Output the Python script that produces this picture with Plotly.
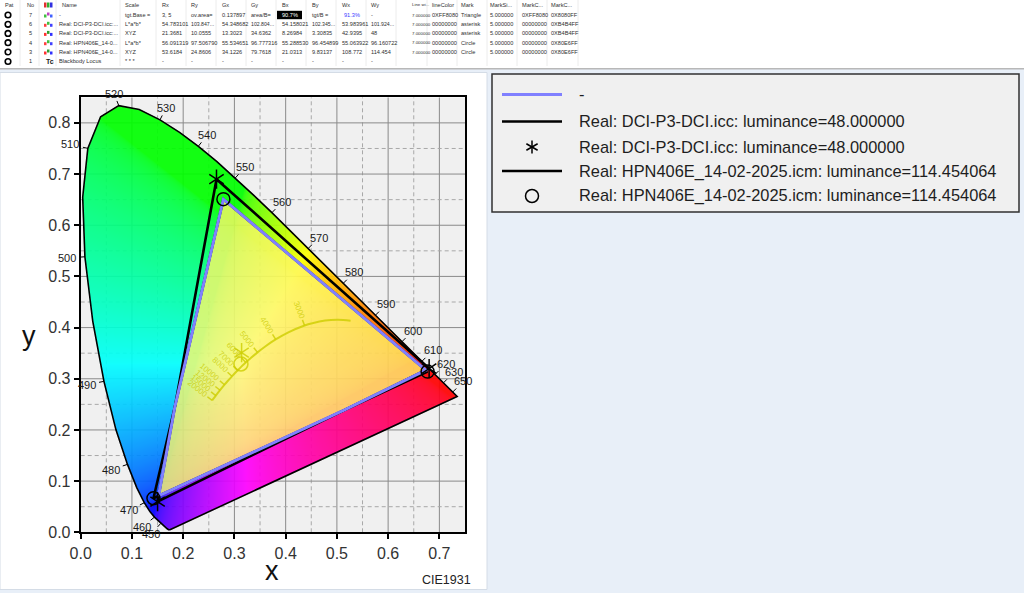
import numpy as np
import plotly.graph_objects as go
import zlib, struct, base64, math

# ---------------- data ----------------
# CIE 1931 spectral locus (wavelength nm, x, y)
wavelengths = [380, 390, 400, 410, 420, 430, 440, 445, 450, 455, 460, 465, 470, 475, 480, 485, 490, 495,
               500, 505, 510, 515, 520, 525, 530, 535, 540, 545, 550, 555, 560, 565, 570, 575, 580, 585,
               590, 595, 600, 605, 610, 615, 620, 625, 630, 635, 640, 645, 650, 655, 660, 670, 680, 700]
locus_x = [0.1741, 0.1738, 0.1733, 0.1726, 0.1714, 0.1689, 0.1644, 0.1611, 0.1566, 0.1510, 0.1440, 0.1355,
           0.1241, 0.1096, 0.0913, 0.0687, 0.0454, 0.0235, 0.0082, 0.0039, 0.0139, 0.0389, 0.0743, 0.1142,
           0.1547, 0.1929, 0.2296, 0.2658, 0.3016, 0.3373, 0.3731, 0.4087, 0.4441, 0.4788, 0.5125, 0.5448,
           0.5752, 0.6029, 0.6270, 0.6482, 0.6658, 0.6801, 0.6915, 0.7006, 0.7079, 0.7140, 0.7190, 0.7230,
           0.7260, 0.7283, 0.7300, 0.7320, 0.7334, 0.7347]
locus_y = [0.0050, 0.0049, 0.0048, 0.0048, 0.0051, 0.0069, 0.0109, 0.0138, 0.0177, 0.0227, 0.0297, 0.0399,
           0.0578, 0.0868, 0.1327, 0.2007, 0.2950, 0.4127, 0.5384, 0.6548, 0.7502, 0.8120, 0.8338, 0.8262,
           0.8059, 0.7816, 0.7543, 0.7243, 0.6923, 0.6589, 0.6245, 0.5896, 0.5547, 0.5202, 0.4866, 0.4544,
           0.4242, 0.3965, 0.3725, 0.3514, 0.3340, 0.3197, 0.3083, 0.2993, 0.2920, 0.2859, 0.2809, 0.2770,
           0.2740, 0.2717, 0.2700, 0.2680, 0.2666, 0.2653]
labeled_wl = [450, 460, 470, 480, 490, 500, 510, 520, 530, 540, 550, 560, 570, 580, 590, 600, 610, 620, 630, 650]

# Planckian (blackbody) locus
bb_T = [2000, 2200, 2500, 2800, 3000, 3500, 4000, 4500, 5000, 5500, 6000, 6500, 7000, 8000, 9000, 10000, 12000, 15000, 20000]
bb_x = [0.5267, 0.5020, 0.4770, 0.4520, 0.4369, 0.4053, 0.3805, 0.3608, 0.3451, 0.3325, 0.3221, 0.3135, 0.3064,
        0.2952, 0.2869, 0.2807, 0.2719, 0.2637, 0.2565]
bb_y = [0.4133, 0.4152, 0.4137, 0.4086, 0.4041, 0.3907, 0.3768, 0.3636, 0.3516, 0.3411, 0.3318, 0.3237, 0.3166,
        0.3048, 0.2956, 0.2884, 0.2776, 0.2671, 0.2577]
bb_labels = [3000, 4000, 5000, 6000, 7000, 8000, 10000, 12000, 15000, 20000]

# gamuts (R, G, B) and white points
dci_name = "Real: DCI-P3-DCI.icc: luminance=48.000000"
dci_x = [0.680, 0.265, 0.150]
dci_y = [0.320, 0.690, 0.060]
dci_wx, dci_wy = 0.314, 0.351
hpn_name = "Real: HPN406E_14-02-2025.icm: luminance=114.454064"
hpn_x = [0.677, 0.2785, 0.142]
hpn_y = [0.314, 0.651, 0.0665]
hpn_wx, hpn_wy = 0.3127, 0.3290

# table (top strip)
tbl_header = ["Pat", "No", "", "Name", "Scale", "Rx", "Ry", "Gx", "Gy", "Bx", "By", "Wx", "Wy",
              "Line wi...", "lineColor", "Mark", "MarkSi...", "MarkC...", "MarkC..."]
tbl_no = ["7", "6", "5", "4", "3", "1"]
tbl_name = ["-", "Real: DCI-P3-DCI.icc:...", "Real: DCI-P3-DCI.icc:...", "Real: HPN406E_14-0...",
            "Real: HPN406E_14-0...", "Blackbody Locus"]
tbl_scale = ["tgt.Base =", "L*a*b*", "XYZ", "L*a*b*", "XYZ", "* * *"]
tbl_vals = [
    ["3, 5", "ov.area=", "0.137897", "area/B=", "90.7%", "tgt/B =", "91.3%", "-"],
    ["54.783101", "103.847...", "54.348682", "102.804...", "54.158021", "102.345...", "53.983961", "101.924..."],
    ["21.3681", "10.0555", "13.3023", "34.6362", "8.26984", "3.30835", "42.9395", "48"],
    ["56.091319", "97.506790", "55.534651", "96.777316", "55.288530", "96.454899", "55.063922", "96.160722"],
    ["53.6184", "24.8606", "34.1226", "79.7618", "21.0313", "9.83137", "108.772", "114.454"],
    ["-", "-", "-", "-", "-", "-", "-", "-"],
]
tbl_tail = [
    ["7.000000", "0XFF8080", "Triangle", "5.000000", "0XFF8080", "0X8080FF"],
    ["7.000000", "00000000", "asterisk", "5.000000", "00000000", "0XB4B4FF"],
    ["7.000000", "00000000", "asterisk", "5.000000", "00000000", "0XB4B4FF"],
    ["7.000000", "00000000", "Circle", "5.000000", "00000000", "0X80E6FF"],
    ["7.000000", "00000000", "Circle", "5.000000", "00000000", "0X80E6FF"],
    ["", "", "", "", "", ""],
]

# ---------------- layout geometry (pixels) ----------------
FIG_W, FIG_H = 1024, 593
PX0, PX1 = 80.7, 465.0
PY0, PY1 = 97.3, 532.3
XR = [0.0, 0.75]
YR = [0.0, 0.85]
DPX = (XR[1] - XR[0]) / (PX1 - PX0)
DPY = (YR[1] - YR[0]) / (PY1 - PY0)
FONT = "Liberation Sans, Arial, sans-serif"


def pp(px, py):
    return px / FIG_W, 1 - py / FIG_H


# ---------------- intersection polygon ----------------
def clip_poly(subject, clipper):
    n = len(clipper)
    area = sum(clipper[i][0] * clipper[(i + 1) % n][1] - clipper[(i + 1) % n][0] * clipper[i][1] for i in range(n))
    sg = 1 if area > 0 else -1

    def inside(p, a, b):
        return sg * ((b[0] - a[0]) * (p[1] - a[1]) - (b[1] - a[1]) * (p[0] - a[0])) >= 0

    def inter(p, q, a, b):
        x1, y1 = p; x2, y2 = q; x3, y3 = a; x4, y4 = b
        den = (x1 - x2) * (y3 - y4) - (y1 - y2) * (x3 - x4)
        t = ((x1 - x3) * (y3 - y4) - (y1 - y3) * (x3 - x4)) / den
        return (x1 + t * (x2 - x1), y1 + t * (y2 - y1))

    out = list(subject)
    for i in range(n):
        a, b = clipper[i], clipper[(i + 1) % n]
        inp, out = out, []
        if not inp:
            break
        s = inp[-1]
        for e in inp:
            if inside(e, a, b):
                if not inside(s, a, b):
                    out.append(inter(s, e, a, b))
                out.append(e)
            elif inside(s, a, b):
                out.append(inter(s, e, a, b))
            s = e
    return out


ov_poly = clip_poly(list(zip(hpn_x, hpn_y)), list(zip(dci_x, dci_y)))
ov_x = [p[0] for p in ov_poly] + [ov_poly[0][0]]
ov_y = [p[1] for p in ov_poly] + [ov_poly[0][1]]


# ---------------- chromaticity background image ----------------
def inside_mask(px, py, vx, vy):
    res = np.zeros(px.shape, bool)
    n = len(vx)
    j = n - 1
    for i in range(n):
        xi, yi, xj, yj = vx[i], vy[i], vx[j], vy[j]
        if yj != yi:
            cond = ((yi > py) != (yj > py)) & (px < (xj - xi) * (py - yi) / (yj - yi) + xi)
            res ^= cond
        j = i
    return res


IW, IH = 770, 870
gx = XR[0] + (np.arange(IW) + 0.5) * (XR[1] - XR[0]) / IW
gy = YR[1] - (np.arange(IH) + 0.5) * (YR[1] - YR[0]) / IH
XX, YY = np.meshgrid(gx, gy)
Ys = np.maximum(YY, 1e-4)
Xc = XX / Ys
Zc = (1 - XX - YY) / Ys
r = 3.2406 * Xc - 1.5372 - 0.4986 * Zc
g = -0.9689 * Xc + 1.8758 + 0.0415 * Zc
b = 0.0557 * Xc - 0.2040 + 1.0570 * Zc
rgb = np.clip(np.stack([r, g, b], -1), 0, None)
rgb = rgb / np.maximum(rgb.max(-1, keepdims=True), 1e-9)
rgb = rgb ** (1 / 2.2)
in_locus = inside_mask(XX, YY, locus_x, locus_y)
in_ov = inside_mask(XX, YY, ov_x[:-1], ov_y[:-1])
tint = np.array([1.0, 0.97, 0.15])
light = 0.5 + 0.5 * rgb[in_ov]
rgb[in_ov] = 0.4 * light + 0.6 * tint
img = np.zeros((IH, IW, 4), np.uint8)
img[..., :3] = np.clip(rgb * 255, 0, 255).astype(np.uint8)
img[..., 3] = np.where(in_locus, 255, 0).astype(np.uint8)


def png_uri(arr):
    h, w, _ = arr.shape
    raw = b"".join(b"\x00" + arr[i].tobytes() for i in range(h))

    def chunk(t, d):
        c = struct.pack(">I", len(d)) + t + d
        return c + struct.pack(">I", zlib.crc32(t + d) & 0xFFFFFFFF)

    ihdr = struct.pack(">IIBBBBB", w, h, 8, 6, 0, 0, 0)
    data = b"\x89PNG\r\n\x1a\n" + chunk(b"IHDR", ihdr) + chunk(b"IDAT", zlib.compress(raw, 9)) + chunk(b"IEND", b"")
    return "data:image/png;base64," + base64.b64encode(data).decode()


# ---------------- figure ----------------
fig = go.Figure()
shapes = []
annotations = []

# panels
shapes.append(dict(type="rect", xref="paper", yref="paper", x0=0, x1=1, y0=pp(0, 68)[1], y1=1,
                   fillcolor="white", line=dict(width=0), layer="below"))
shapes.append(dict(type="line", xref="paper", yref="paper", x0=0, x1=1, y0=pp(0, 68.8)[1], y1=pp(0, 68.8)[1],
                   line=dict(color="#b8b8b8", width=1.5), layer="below"))
shapes.append(dict(type="rect", xref="paper", yref="paper", x0=pp(0, 0)[0], x1=pp(487, 0)[0],
                   y0=pp(0, 589.5)[1], y1=pp(0, 72.5)[1], fillcolor="white",
                   line=dict(color="#d4dce6", width=1), layer="below"))

# plot background + grid (drawn under the colour image)
shapes.append(dict(type="rect", xref="x", yref="y", x0=XR[0], x1=XR[1], y0=YR[0], y1=YR[1],
                   fillcolor="#f0f0f0", line=dict(width=0), layer="below"))
for k in range(1, 15):
    v = k * 0.05
    major = k % 2 == 0
    st = dict(color="#8a8a8a", width=1) if major else dict(color="#a8a8a8", width=1, dash="4px,3px")
    shapes.append(dict(type="line", xref="x", yref="y", x0=v, x1=v, y0=YR[0], y1=YR[1], line=st, layer="below"))
for k in range(1, 17):
    v = k * 0.05
    major = k % 2 == 0
    st = dict(color="#8a8a8a", width=1) if major else dict(color="#a8a8a8", width=1, dash="4px,3px")
    shapes.append(dict(type="line", xref="x", yref="y", x0=XR[0], x1=XR[1], y0=v, y1=v, line=st, layer="below"))

# spectral locus outline
fig.add_trace(go.Scatter(x=locus_x + [locus_x[0]], y=locus_y + [locus_y[0]], mode="lines",
                         line=dict(color="black", width=1.6), hoverinfo="skip", showlegend=False))

# wavelength ticks + labels
wl_tx, wl_ty = [], []
cx, cy = 0.33, 0.33
for w in labeled_wl:
    i = wavelengths.index(w)
    i0, i1 = max(i - 2, 0), min(i + 2, len(wavelengths) - 1)
    tx, ty = locus_x[i1] - locus_x[i0], locus_y[i1] - locus_y[i0]
    nx, ny = ty, -tx
    nn = math.hypot(nx, ny)
    nx, ny = nx / nn, ny / nn
    if nx * (locus_x[i] - cx) + ny * (locus_y[i] - cy) < 0:
        nx, ny = -nx, -ny
    wl_tx += [locus_x[i], locus_x[i] + nx * 5 * DPX, None]
    wl_ty += [locus_y[i], locus_y[i] + ny * 5 * DPY, None]
    d = 9 + 9 * abs(nx)
    annotations.append(dict(x=locus_x[i], y=locus_y[i], xref="x", yref="y", text=str(w), showarrow=False,
                            xanchor="center", yanchor="middle", xshift=nx * d, yshift=ny * d,
                            font=dict(family=FONT, size=11, color="#1a1a1a")))
fig.add_trace(go.Scatter(x=wl_tx, y=wl_ty, mode="lines", line=dict(color="black", width=1),
                         hoverinfo="skip", showlegend=False))

# blackbody locus
BB_COL = "rgba(205,205,0,0.8)"
fig.add_trace(go.Scatter(x=bb_x, y=bb_y, mode="lines", line=dict(color=BB_COL, width=2, shape="spline"),
                         hoverinfo="skip", showlegend=False))
bb_tx, bb_ty = [], []
for T in bb_labels:
    i = bb_T.index(T)
    i0, i1 = max(i - 1, 0), min(i + 1, len(bb_T) - 1)
    tx, ty = bb_x[i1] - bb_x[i0], bb_y[i1] - bb_y[i0]
    nx, ny = ty, -tx
    nn = math.hypot(nx, ny)
    nx, ny = nx / nn, ny / nn
    if ny < 0:
        nx, ny = -nx, -ny
    bb_tx += [bb_x[i], bb_x[i] + nx * 6 * DPX, None]
    bb_ty += [bb_y[i], bb_y[i] + ny * 6 * DPY, None]
    wtxt = len(str(T)) * 4.4
    d = 8 + wtxt / 2
    ang = math.degrees(math.atan2(ny, -nx))
    annotations.append(dict(x=bb_x[i], y=bb_y[i], xref="x", yref="y", text=str(T), showarrow=False,
                            xanchor="center", yanchor="middle", xshift=nx * d, yshift=ny * d, textangle=ang,
                            font=dict(family=FONT, size=8, color="rgba(200,200,0,0.75)")))
fig.add_trace(go.Scatter(x=bb_tx, y=bb_ty, mode="lines", line=dict(color=BB_COL, width=1.5),
                         hoverinfo="skip", showlegend=False))

# gamut triangles
fig.add_trace(go.Scatter(x=hpn_x + [hpn_x[0]], y=hpn_y + [hpn_y[0]], mode="lines",
                         line=dict(color="black", width=2.6), name=hpn_name, showlegend=False))
fig.add_trace(go.Scatter(x=dci_x + [dci_x[0]], y=dci_y + [dci_y[0]], mode="lines",
                         line=dict(color="black", width=2.6), name=dci_name, showlegend=False))
fig.add_trace(go.Scatter(x=ov_x, y=ov_y, mode="lines", line=dict(color="#8080FF", width=3),
                         name="-", showlegend=False))

# markers
for sym in ["y-up-open", "y-down-open"]:
    fig.add_trace(go.Scatter(x=dci_x, y=dci_y, mode="markers", showlegend=False, name=dci_name,
                             marker=dict(symbol=sym, size=12, color="black", line=dict(color="black", width=1.5))))
    fig.add_trace(go.Scatter(x=[dci_wx], y=[dci_wy], mode="markers", showlegend=False,
                             marker=dict(symbol=sym, size=12, color=BB_COL, line=dict(color=BB_COL, width=1.5))))
fig.add_trace(go.Scatter(x=hpn_x, y=hpn_y, mode="markers", showlegend=False, name=hpn_name,
                         marker=dict(symbol="circle-open", size=13, color="black", line=dict(color="black", width=1.5))))
fig.add_trace(go.Scatter(x=[hpn_wx], y=[hpn_wy], mode="markers", showlegend=False,
                         marker=dict(symbol="circle-open", size=14, color=BB_COL, line=dict(color=BB_COL, width=1.6))))

# axis titles / caption
annotations.append(dict(xref="paper", yref="paper", x=pp(272, 0)[0], y=pp(0, 571)[1], text="x", showarrow=False,
                        xanchor="center", yanchor="middle", font=dict(family=FONT, size=27, color="#111")))
annotations.append(dict(xref="paper", yref="paper", x=pp(29, 0)[0], y=pp(0, 336)[1], text="y", showarrow=False,
                        xanchor="center", yanchor="middle", font=dict(family=FONT, size=27, color="#111")))
annotations.append(dict(xref="paper", yref="paper", x=pp(473, 0)[0], y=pp(0, 580)[1], text="CIE1931",
                        showarrow=False, xanchor="right", yanchor="middle",
                        font=dict(family=FONT, size=12.5, color="#222")))

# ---------------- manual legend ----------------
LX0, LX1, LY0, LY1 = 492, 1019, 74, 212
x0p, y0p = pp(LX0, LY0)
x1p, y1p = pp(LX1, LY1)
shapes.append(dict(type="rect", xref="paper", yref="paper", x0=x0p, x1=x1p, y0=y1p, y1=y0p,
                   fillcolor="#f0f0f0", line=dict(color="#303030", width=1.5), layer="below"))
leg_rows = [("line", "#8080FF", 3, "-"), ("line", "black", 2.6, dci_name), ("ast", "black", 1.5, dci_name),
            ("line", "black", 2.6, hpn_name), ("circ", "black", 1.5, hpn_name)]
leg_y = [94.5, 121.5, 147, 171, 196]
for (kind, col, wdt, label), ly in zip(leg_rows, leg_y):
    if kind == "line":
        a, yy = pp(502, ly)
        bpx, _ = pp(562, ly)
        shapes.append(dict(type="line", xref="paper", yref="paper", x0=a, x1=bpx, y0=yy, y1=yy,
                           line=dict(color=col, width=wdt), layer="above"))
    elif kind == "ast":
        cxp, cyp = 532, ly
        for angd in [90, 30, 150]:
            dx = 6.5 * math.cos(math.radians(angd))
            dy = 6.5 * math.sin(math.radians(angd))
            p0 = pp(cxp - dx, cyp + dy)
            p1 = pp(cxp + dx, cyp - dy)
            shapes.append(dict(type="line", xref="paper", yref="paper", x0=p0[0], x1=p1[0], y0=p0[1], y1=p1[1],
                               line=dict(color=col, width=wdt), layer="above"))
    else:
        p0 = pp(532 - 6.5, ly + 6.5)
        p1 = pp(532 + 6.5, ly - 6.5)
        shapes.append(dict(type="circle", xref="paper", yref="paper", x0=p0[0], x1=p1[0], y0=p0[1], y1=p1[1],
                           line=dict(color=col, width=wdt), layer="above"))
    tx, ty = pp(577, ly)
    annotations.append(dict(xref="paper", yref="paper", x=tx, y=ty, text=label, showarrow=False,
                            xanchor="left", yanchor="middle", font=dict(family=FONT, size=16.4, color="#1e1e1e")))

# ---------------- table ----------------
col_x = [3, 25, 43, 60, 123, 160, 189, 220, 249, 280, 310, 340, 369, 410, 430, 459, 488, 520, 549]
row_y = [15, 24.3, 33.4, 42.7, 52, 61.5]
HDR_Y = 5
TFS = 5.6
TCOL = "#303030"
sep_x = [20, 39, 56, 120, 156, 186, 216, 246, 276, 306, 336, 366, 396, 427, 457, 487, 517, 547, 578]
for sx in sep_x:
    a, yy0 = pp(sx, 0)
    _, yy1 = pp(sx, 66)
    shapes.append(dict(type="line", xref="paper", yref="paper", x0=a, x1=a, y0=yy1, y1=yy0,
                       line=dict(color="#ececec", width=1), layer="below"))


def ttext(px, py, s, color=TCOL, size=TFS, bold=False):
    x, y = pp(px, py)
    annotations.append(dict(xref="paper", yref="paper", x=x, y=y, text=("<b>%s</b>" % s) if bold else s,
                            showarrow=False, xanchor="left", yanchor="middle",
                            font=dict(family=FONT, size=size, color=color)))


for ci, (cxp, h) in enumerate(zip(col_x, tbl_header)):
    if h:
        ttext(cxp, HDR_Y, h, size=(4.4 if ci == 13 else TFS))
# header icon
for k, c in enumerate(["#e03030", "#30b030", "#3030e0"]):
    a, b0 = pp(44 + k * 3, HDR_Y + 2.5)
    a1, b1 = pp(46.5 + k * 3, HDR_Y - 2.5)
    shapes.append(dict(type="rect", xref="paper", yref="paper", x0=a, x1=a1, y0=b0, y1=b1,
                       fillcolor=c, line=dict(width=0), layer="above"))

icon_cols = [["#40c040", "#c040c0", "#4060ff"], ["#ff4040", "#40c040", "#4040ff"],
             ["#ff3030", "#30a030", "#3030ff"], ["#ff4040", "#40c040", "#4040ff"],
             ["#ff3030", "#30a030", "#3030ff"], None]
for ri, ry in enumerate(row_y):
    p0 = pp(8 - 2.8, ry + 2.8)
    p1 = pp(8 + 2.8, ry - 2.8)
    shapes.append(dict(type="circle", xref="paper", yref="paper", x0=p0[0], x1=p1[0], y0=p0[1], y1=p1[1],
                       line=dict(color="black", width=1.6), layer="above"))
    ttext(col_x[1] + 2, ry, tbl_no[ri])
    if icon_cols[ri] is not None:
        for k, c in enumerate(icon_cols[ri]):
            a, b0 = pp(44 + k * 3, ry + (2.5 if k != 1 else 0.5))
            a1, b1 = pp(46.5 + k * 3, ry - (0.5 if k != 1 else 2.5))
            shapes.append(dict(type="rect", xref="paper", yref="paper", x0=a, x1=a1, y0=b0, y1=b1,
                               fillcolor=c, line=dict(width=0), layer="above"))
    else:
        ttext(44, ry, "Tc", color="#202020", size=7, bold=True)
    ttext(57, ry, tbl_name[ri])
    ttext(col_x[4], ry, tbl_scale[ri])
    for ci, v in enumerate(tbl_vals[ri]):
        px = col_x[5 + ci]
        if v == "90.7%":
            a, b0 = pp(px - 3, ry + 4.2)
            a1, b1 = pp(px + 22, ry - 4.2)
            shapes.append(dict(type="rect", xref="paper", yref="paper", x0=a, x1=a1, y0=b0, y1=b1,
                               fillcolor="black", line=dict(width=0), layer="below"))
            ttext(px, ry, v, color="white")
        elif v == "91.3%":
            ttext(px + 2, ry, v, color="#3a3aff")
        else:
            ttext(px, ry, v, size=(TFS if len(v) < 10 else 5.2))
    for ci, v in enumerate(tbl_tail[ri]):
        if v:
            ttext(col_x[13 + ci], ry, v, size=(4.4 if ci == 0 else TFS))

# ---------------- layout ----------------
axis_common = dict(dtick=0.1, tick0=0, tickformat=".1f", automargin=False,
                   showgrid=False, zeroline=False, showline=True, mirror=True, linecolor="black", linewidth=2,
                   ticks="outside", ticklen=5, tickwidth=1.5, tickcolor="black",
                   tickfont=dict(family=FONT, size=16, color="#333"))
fig.update_layout(
    width=FIG_W, height=FIG_H, autosize=False,
    margin=dict(l=0, r=0, t=0, b=0, pad=0),
    paper_bgcolor="#e8eff8",
    plot_bgcolor="rgba(0,0,0,0)",
    showlegend=False,
    shapes=shapes,
    annotations=annotations,
    images=[dict(source=png_uri(img), xref="x", yref="y", x=XR[0], y=YR[1], sizex=XR[1] - XR[0],
                 sizey=YR[1] - YR[0], xanchor="left", yanchor="top", sizing="stretch", layer="below",
                 opacity=0.92)],
    xaxis=dict(range=XR, domain=[PX0 / FIG_W, PX1 / FIG_W], **axis_common),
    yaxis=dict(range=YR, domain=[1 - PY1 / FIG_H, 1 - PY0 / FIG_H], **axis_common),
)

fig.write_html("out.html", config={"displayModeBar": False},
               post_script="document.body.style.margin='0';document.body.style.overflow='hidden';")
